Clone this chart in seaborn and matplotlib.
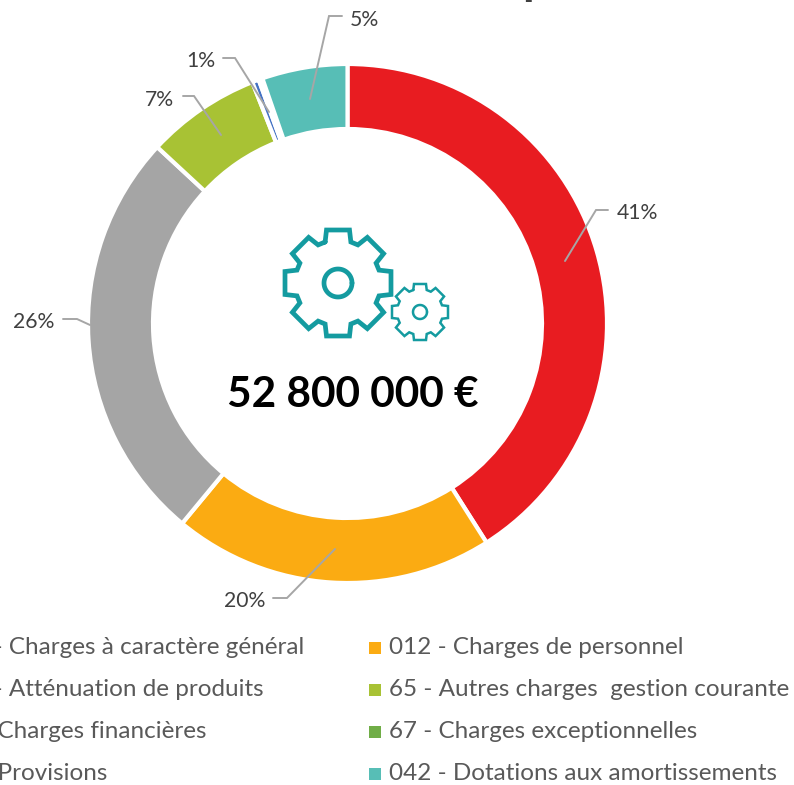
import numpy as np
import matplotlib
matplotlib.use("Agg")
import matplotlib.pyplot as plt
import seaborn as sns

W, H = 794, 785

categories = ["011 - Charges à caractère général", "012 - Charges de personnel",
              "014 - Atténuation de produits", "65 - Autres charges  gestion courante",
              "66 - Charges financières", "67 - Charges exceptionnelles",
              "68 - Provisions", "042 - Dotations aux amortissements"]
values = [41.0, 20.0, 25.9, 7.12, 0.42, 0.12, 0.12, 5.32]
slice_colors = ["#E81C21", "#FBAB12", "#A5A5A5", "#A8C234", "#4472C4", "#70AD47", "#255E91", "#57BEB6"]
pct_labels = ["41%", "20%", "26%", "7%", "1%", "5%"]
total_label = "52 800 000 €"

sns.set_theme(style="white")
plt.rcParams["font.family"] = ["Lato", "DejaVu Sans"]

fig = plt.figure(figsize=(W / 100, H / 100), dpi=100)
ax = fig.add_axes([0, 0, 1, 1])

def Y(y):
    return H - y

R, RING = 259.5, 65
ax.pie(values, colors=sns.color_palette(slice_colors), startangle=90, counterclock=False,
       center=(347.5, Y(323.5)), radius=R,
       wedgeprops=dict(width=RING, edgecolor="white", linewidth=3.0))
ax.set_xlim(0, W)
ax.set_ylim(0, H)
ax.set_aspect("equal")

# data labels with leader lines
label_pos = [(617, 213), (224, 601), (13, 322), (145, 100), (186, 61), (350, 20)]
leaders = [[(608, 210), (596, 210), (565, 261)],
           [(273, 598), (287, 598), (335, 549)],
           [(63, 319), (77, 319), (90, 325)],
           [(183, 96), (194, 96), (221, 135)],
           [(223, 58), (235, 58), (269, 112)],
           [(342, 16), (329, 16), (310, 99)]]
for txt, (x, y), pts in zip(pct_labels, label_pos, leaders):
    ax.text(x, Y(y), txt, fontsize=15.2, color="#404040", ha="left", va="center")
    ax.plot([p[0] for p in pts], [Y(p[1]) for p in pts], color="#A6A6A6", lw=1.4,
            solid_joinstyle="miter")

ax.text(353, Y(395), total_label, fontsize=30.5, fontweight="bold", color="black",
        ha="center", va="center")

# gears icon
def gear(cx, cy, r_out, r_root, half_w, r_hub, lw, n=8):
    pts = []
    for k in range(n):
        a = 2 * np.pi * k / n
        u = np.array([np.sin(a), np.cos(a)])
        v = np.array([np.cos(a), -np.sin(a)])
        pts += [u * r_root - v * half_w * 1.12, u * r_out - v * half_w,
                u * r_out + v * half_w, u * r_root + v * half_w * 1.12]
    pts = np.array(pts + pts[:1])
    ax.plot(cx + pts[:, 0], Y(cy) + pts[:, 1], color="#149BA0", lw=lw, solid_joinstyle="miter")
    t = np.linspace(0, 2 * np.pi, 80)
    ax.plot(cx + r_hub * np.cos(t), Y(cy) + r_hub * np.sin(t), color="#149BA0", lw=lw)

gear(338, 283, 53, 41, 11.5, 14, 3.4)
gear(420, 312, 28, 22, 6, 7, 1.8)

# legend laid out in two columns, the left one runs off the canvas
row_y = [648, 690, 732, 774]
left_start = [-55, -55, -52, -52]
right_start = 389
for i, label in enumerate(categories):
    c, r = i % 2, i // 2
    tx = left_start[r] if c == 0 else right_start
    ax.scatter(tx - 14, Y(row_y[r] - 0.5), marker="s", s=70, color=slice_colors[i], linewidths=0)
    ax.text(tx, Y(row_y[r]), label, fontsize=17.5, color="#595959", ha="left", va="center")

# bottom of the cropped chart title
ax.text(522, Y(-6.5), "p", fontsize=34, fontweight="bold", color="#404040", ha="left", va="baseline")

fig.savefig("out.png", dpi=100)
